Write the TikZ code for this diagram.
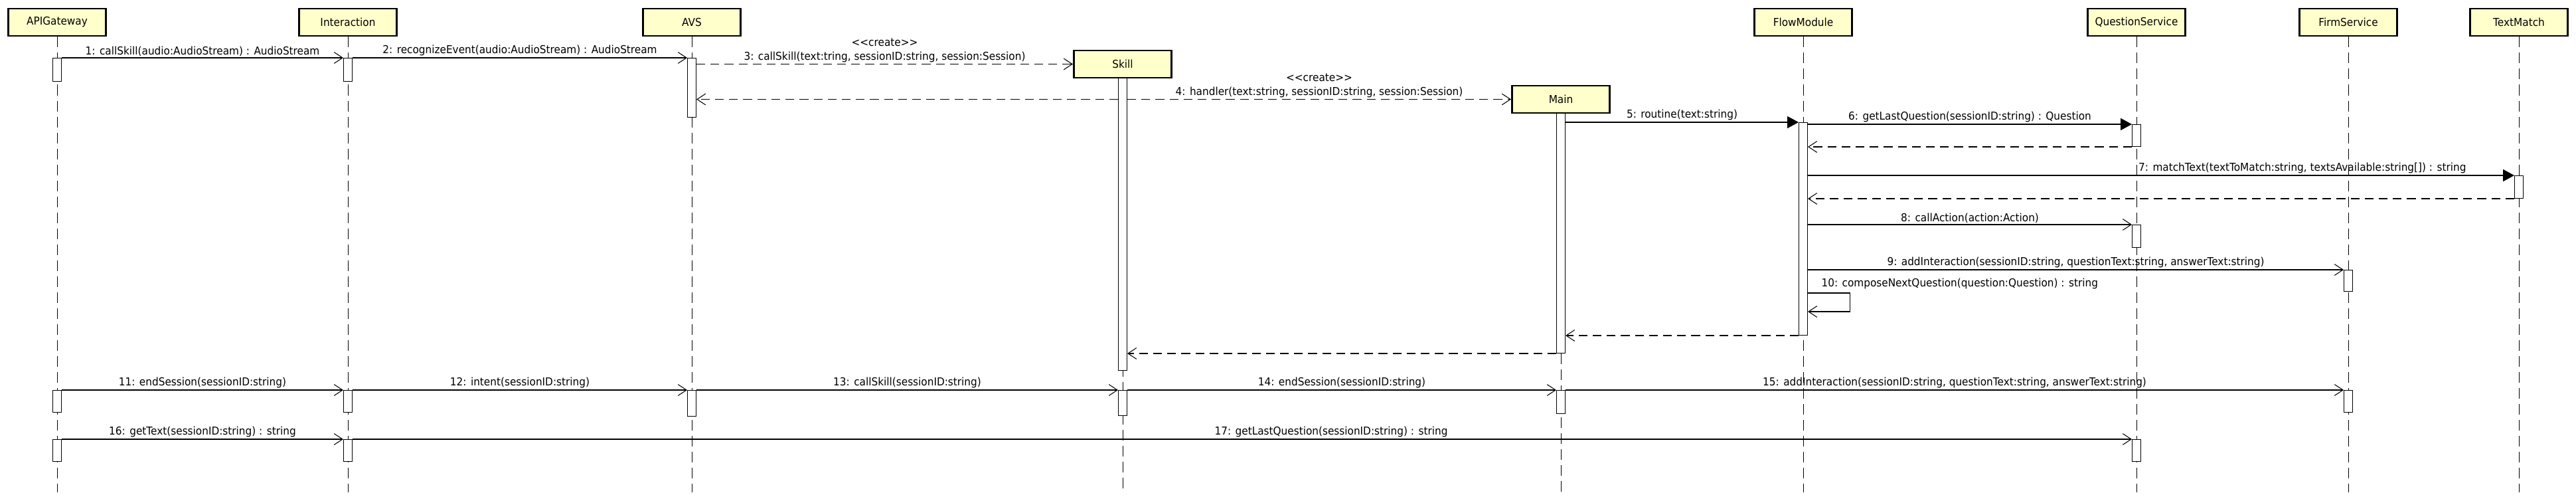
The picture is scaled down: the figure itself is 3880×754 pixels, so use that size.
\documentclass[tikz,border=0pt]{standalone}
\usepackage{fontspec}
\setmainfont{DejaVu Sans}[FakeStretch=0.93]
\usetikzlibrary{arrows.meta}
\definecolor{headfill}{RGB}{255,255,204}
% activation bar: name, x, top, bottom
\newcommand{\actbar}[4]{\node[actbar, minimum height={(#4-#3)*0.025cm}] (#1) at (#2,#3) {};}

\begin{document}
\begin{tikzpicture}[x=0.025cm, y=-0.025cm,
    font=\fontsize{11.7}{15}\selectfont,
    head/.style={draw, line width=2.1pt, fill=headfill, minimum width=3.675cm, minimum height=1.025cm, inner xsep=3pt},
    actbar/.style={draw, line width=0.7pt, fill=white, anchor=north, minimum width=0.325cm, inner sep=0pt},
    lifeline/.style={line width=0.7pt, dash pattern=on 0.4cm off 0.2cm},
    msg/.style={line width=0.75pt, -{Straight Barb[length=0.32cm, width=0.42cm]}},
    call/.style={line width=0.75pt, -{Triangle[length=0.42cm, width=0.45cm]}},
    reply/.style={msg, dash pattern=on 0.33cm off 0.2cm},
    lbl/.style={midway, above, inner sep=1.5pt}]
  \useasboundingbox (0,0) rectangle (3880,754);

  % lifeline heads
  \node[head] (api) at (86,33.5) {APIGateway};
  \node[head] (int) at (524,33.5) {Interaction};
  \node[head] (avs) at (1042,33.5) {AVS};
  \node[head] (skill) at (1691,96.5) {Skill};
  \node[head] (main) at (2351,149.5) {Main};
  \node[head] (fm) at (2716,33.5) {FlowModule};
  \node[head] (qs) at (3218,33.5) {QuestionService};
  \node[head] (fs) at (3537,33.5) {FirmService};
  \node[head] (tm) at (3794,33.5) {TextMatch};

  % lifelines
  \coordinate (bot) at (0,741);
  \foreach \n in {api,int,avs,skill,main,fm,qs,fs,tm}
    \draw[lifeline] (\n.south) -- (\n.south |- bot);

  % activation bars
  \actbar{apiA}{86}{87}{122}
  \actbar{apiB}{86}{587}{620}
  \actbar{apiC}{86}{661}{694}
  \actbar{intA}{524}{87}{122}
  \actbar{intB}{524}{587}{620}
  \actbar{intC}{524}{661}{694}
  \actbar{avsA}{1042}{87}{176}
  \actbar{avsB}{1042}{587}{626}
  \actbar{skillA}{1691}{117}{557}
  \actbar{skillB}{1691}{587}{625}
  \actbar{mainA}{2351}{170}{531}
  \actbar{mainB}{2351}{587}{622}
  \actbar{fmA}{2716}{184}{504}
  \actbar{qsA}{3218}{187}{220}
  \actbar{qsB}{3218}{338}{372}
  \actbar{qsC}{3218}{661}{694}
  \actbar{fsA}{3537}{406}{438}
  \actbar{fsB}{3537}{587}{620}
  \actbar{tmA}{3794}{264}{298}

  % first run
  \draw[msg] (apiA.north east) -- (intA.north west) node[lbl] {1: callSkill(audio:AudioStream) : AudioStream};
  \draw[msg] (intA.north east) -- (avsA.north west) node[lbl] {2: recognizeEvent(audio:AudioStream) : AudioStream};
  \draw[reply] (avsA.east |- skill.west) -- (skill.west) node[lbl, align=center] {<{}<create>{}>\\3: callSkill(text:tring, sessionID:string, session:Session)};
  \draw[reply] (skillA.west |- main.west) -- (avsA.east |- main.west);
  \draw[reply] (skillA.east |- main.west) -- (main.west) node[lbl, align=center] {<{}<create>{}>\\4: handler(text:string, sessionID:string, session:Session)};
  \draw[call] (mainA.east |- fmA.north) -- (fmA.north west) node[lbl] {5: routine(text:string)};
  \draw[call] (fmA.east |- qsA.north) -- (qsA.north west) node[lbl] {6: getLastQuestion(sessionID:string) : Question};
  \draw[reply] (qsA.south west) -- (fmA.east |- qsA.south);
  \draw[call] (fmA.east |- tmA.north) -- (tmA.north west) node[lbl, pos=0.7] {7: matchText(textToMatch:string, textsAvailable:string[]) : string};
  \draw[reply] (tmA.south west) -- (fmA.east |- tmA.south);
  \draw[msg] (fmA.east |- qsB.north) -- (qsB.north west) node[lbl] {8: callAction(action:Action)};
  \draw[msg] (fmA.east |- fsA.north) -- (fsA.north west) node[lbl] {9: addInteraction(sessionID:string, questionText:string, answerText:string)};
  \coordinate (loopA) at (2786,441);
  \coordinate (loopB) at (2786,469);
  \draw[msg] (fmA.east |- loopA) node[anchor=south west, inner sep=0pt, xshift=0.5cm, yshift=0.15cm] {10: composeNextQuestion(question:Question) : string}
    -- (loopA) -- (loopB) -- (fmA.east |- loopB);
  \draw[reply] (fmA.south west) -- (mainA.east |- fmA.south);
  \draw[reply] (mainA.south west) -- (skillA.east |- mainA.south);

  % end of session
  \draw[msg] (apiB.north east) -- (intB.north west) node[lbl] {11: endSession(sessionID:string)};
  \draw[msg] (intB.north east) -- (avsB.north west) node[lbl] {12: intent(sessionID:string)};
  \draw[msg] (avsB.north east) -- (skillB.north west) node[lbl] {13: callSkill(sessionID:string)};
  \draw[msg] (skillB.north east) -- (mainB.north west) node[lbl] {14: endSession(sessionID:string)};
  \draw[msg] (mainB.north east) -- (fsB.north west) node[lbl] {15: addInteraction(sessionID:string, questionText:string, answerText:string)};
  \draw[msg] (apiC.north east) -- (intC.north west) node[lbl] {16: getText(sessionID:string) : string};
  \draw[msg] (intC.north east) -- (qsC.north west) node[lbl, pos=0.55] {17: getLastQuestion(sessionID:string) : string};
\end{tikzpicture}
\end{document}
